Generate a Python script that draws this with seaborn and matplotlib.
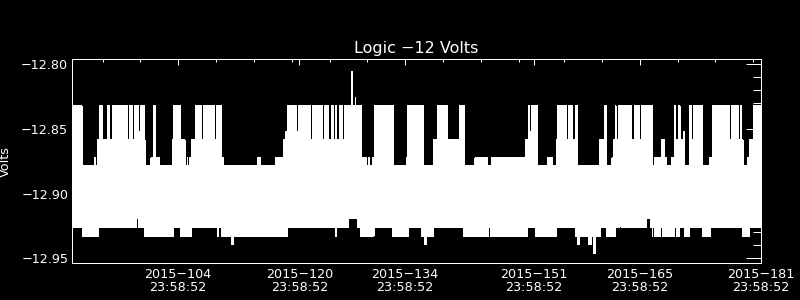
import numpy as np
import pandas as pd
import matplotlib
matplotlib.use("Agg")
import matplotlib.pyplot as plt
import seaborn as sns
from matplotlib.ticker import FixedLocator, NullFormatter

# Quantized telemetry levels (Volts) seen in the trace
level_volts = {
    "S1": -12.8052, "S2": -12.8253, "A": -12.8315, "M": -12.8516, "B": -12.8585,
    "C": -12.8717, "D": -12.8786, "L2": -12.9064, "L1": -12.9196,
    "E": -12.9265, "F": -12.9335, "G": -12.9397, "H": -12.9466,
}

# Upper envelope of the sampled -12 V logic rail (day of 2015, level reached)
upper_day = [
    90.00, 91.28, 91.41, 92.87, 93.13, 93.27, 93.53, 93.66, 93.79, 93.93, 94.59, 94.85, 95.25,
    97.23, 97.50, 98.02, 98.16, 98.78, 98.95, 99.48, 99.61, 100.40, 100.67, 101.06, 101.46,
    103.18, 103.44, 104.24, 104.90, 105.16, 105.29, 105.43, 105.56, 105.78, 106.22, 106.42,
    106.55, 106.75, 106.88, 107.08, 107.28, 107.74, 107.87, 108.40, 108.53, 108.86, 109.00,
    109.30, 109.43, 109.75, 109.92, 114.51, 114.94, 116.80, 117.89, 118.12, 118.47, 119.70,
    119.88, 120.80, 120.99, 121.16, 121.33, 121.51, 121.78, 121.95, 122.18, 123.10, 123.40,
    123.84, 124.29, 124.50, 124.82, 124.95, 125.30, 125.39, 125.61, 125.74, 125.92, 126.14,
    126.27, 126.84, 127.04, 127.37, 127.50, 128.26, 128.43, 128.65, 128.92, 129.13, 129.29,
    129.62, 129.88, 130.68, 130.85, 131.11, 131.30, 132.43, 134.15, 134.28, 135.30, 135.53,
    135.74, 135.87, 136.36, 137.68, 138.25, 138.61, 138.74, 139.23, 139.36, 139.66, 141.12,
    141.78, 143.23, 143.50, 143.63, 143.96, 144.09, 144.49, 144.62, 144.89, 145.41, 145.75,
    145.88, 146.41, 146.60, 147.73, 147.93, 148.39, 148.52, 148.82, 148.96, 149.27, 149.41,
    149.62, 149.75, 149.84, 150.28, 150.50, 150.64, 150.81, 150.94, 151.52, 152.75, 152.92,
    153.06, 153.19, 153.37, 153.50, 153.94, 154.07, 155.04, 155.17, 155.39, 155.57, 155.83,
    156.02, 156.15, 156.45, 156.72, 159.66, 160.33, 160.55, 161.34, 161.52, 161.74, 161.87,
    162.14, 162.76, 162.89, 163.86, 164.29, 164.52, 164.65, 164.95, 165.18, 166.72, 166.94,
    167.07, 167.20, 167.82, 168.31, 168.61, 169.27, 169.41, 169.63, 169.80, 170.16, 170.33,
    170.73, 170.99, 171.52, 171.83, 172.05, 172.28, 172.41, 173.37, 174.26, 174.60, 176.28,
    176.45, 176.90, 177.11, 177.34, 177.56, 178.00, 178.30, 178.44, 178.66, 179.23, 179.36,
    179.55, 179.98, 180.21, 180.34, 180.51, 180.64, 180.78, 180.91,
]
upper_code = [
    "A", "B", "D", "C", "D", "B", "A", "B", "A", "B", "A", "B", "A",
    "B", "A", "B", "A", "M", "A", "B", "D", "C", "A", "C", "D",
    "B", "A", "B", "D", "C", "D", "C", "D", "B", "A", "B",
    "A", "B", "A", "B", "A", "B", "A", "B", "A", "B", "A",
    "B", "A", "C", "D", "C", "D", "C", "B", "M", "A", "M",
    "A", "B", "A", "B", "A", "B", "A", "B", "A", "B", "A",
    "B", "A", "B", "A", "B", "A", "B", "A", "B", "A", "B",
    "A", "S1", "A", "S2", "A", "C", "D", "C", "D", "C", "D",
    "C", "A", "B", "A", "B", "A", "D", "C", "A", "B", "A",
    "B", "A", "D", "B", "A", "B", "A", "B", "A", "B", "A",
    "D", "C", "D", "C", "D", "C", "D", "C", "D", "C", "D",
    "C", "D", "C", "D", "C", "D", "C", "D", "C", "D", "C",
    "D", "C", "B", "A", "M", "A", "B", "A", "D", "C", "D",
    "C", "D", "C", "D", "B", "A", "B", "A", "B", "A", "B",
    "A", "B", "A", "D", "B", "A", "D", "C", "B", "A", "B",
    "A", "B", "A", "B", "A", "B", "A", "B", "A", "D", "C",
    "D", "C", "B", "C", "D", "C", "D", "A", "B", "A", "B",
    "M", "D", "A", "B", "A", "B", "A", "D", "C", "A", "B",
    "A", "B", "A", "B", "A", "B", "A", "B", "D", "C", "D",
    "B", "A", "B", "A", "B", "A", "B", "A",
]

# Lower envelope (day of 2015, level reached)
lower_day = [
    90.00, 91.28, 93.40, 98.55, 98.69, 99.48, 100.80, 101.02, 103.44, 104.24, 105.78,
    109.13, 109.26, 109.75, 110.98, 111.34, 118.47, 120.63, 120.76, 124.77, 124.90,
    126.45, 127.24, 127.37, 127.64, 127.90, 128.03, 128.16, 129.88, 130.28, 130.41,
    132.26, 134.38, 135.04, 135.17, 136.19, 136.62, 136.76, 137.81, 140.46, 140.59,
    141.65, 145.08, 145.22, 150.15, 150.64, 150.77, 151.26, 154.07, 156.58, 156.72,
    157.11, 158.17, 158.57, 158.96, 159.10, 159.76, 160.55, 161.74, 162.27, 162.53,
    165.84, 166.37, 166.63, 166.76, 166.99, 167.73, 167.95, 169.54, 169.84, 170.29,
    170.86, 171.61, 173.24, 174.39, 178.53, 179.55,
]
lower_code = [
    "E", "F", "E", "L1", "E", "F", "E", "F", "E", "F", "E",
    "F", "E", "F", "G", "F", "E", "L2", "E", "F", "E",
    "L1", "L2", "L1", "E", "L1", "E", "F", "E", "L1", "E",
    "F", "E", "L1", "E", "F", "G", "F", "E", "L1", "E",
    "F", "E", "F", "E", "L1", "E", "F", "E", "F", "G",
    "F", "G", "F", "H", "F", "E", "F", "E", "L1", "E",
    "L1", "E", "F", "E", "F", "E", "F", "E", "F", "E",
    "F", "E", "F", "E", "F", "E",
]
end_day = 181.0

title = "Logic \u221212 Volts"
y_label = "Volts"
major_days = [104, 120, 134, 151, 165, 181]
major_labels = ["2015\u2212104\n23:58:52", "2015\u2212120\n23:58:52", "2015\u2212134\n23:58:52",
                "2015\u2212151\n23:58:52", "2015\u2212165\n23:58:52", "2015\u2212181\n23:58:52"]
minor_days = [94, 99, 104, 109, 114, 119, 124, 129, 134, 139, 144, 149,
              155, 160, 165, 170, 175, 180]
y_major = [-12.95, -12.90, -12.85, -12.80]
y_major_labels = ["\u221212.95", "\u221212.90", "\u221212.85", "\u221212.80"]
y_minor = [-12.95, -12.94, -12.93, -12.92, -12.91, -12.90, -12.89, -12.88, -12.87,
           -12.86, -12.85, -12.84, -12.83, -12.82, -12.81, -12.80]

# ---- build long table: at every breakpoint, the range max/min reached ----
u_day = np.asarray(upper_day)
l_day = np.asarray(lower_day)
u_val = np.array([level_volts[c] for c in upper_code])
l_val = np.array([level_volts[c] for c in lower_code])
t = np.union1d(u_day, l_day)
hi = u_val[np.searchsorted(u_day, t, side="right") - 1]
lo = l_val[np.searchsorted(l_day, t, side="right") - 1]
t = np.append(t, end_day)
hi = np.append(hi, hi[-1])
lo = np.append(lo, lo[-1])
df = pd.DataFrame({"day": np.concatenate([t, t]), "volts": np.concatenate([hi, lo])})

sns.set_style("dark")
plt.rcParams["font.family"] = ["DejaVu Sans"]
plt.rcParams["axes.unicode_minus"] = True
plt.rcParams["patch.antialiased"] = False

fig = plt.figure(figsize=(8, 3), dpi=100, facecolor="black")
ax = fig.add_axes([0.0904, 0.1223, 0.8605, 0.6800])
ax.set_facecolor("black")

sns.lineplot(data=df, x="day", y="volts", estimator="mean", errorbar=("pi", 100),
             err_style="band", drawstyle="steps-post", color="white", linewidth=0,
             err_kws={"step": "post", "alpha": 1, "linewidth": 0, "antialiased": False,
                      "edgecolor": "none"},
             ax=ax)

ax.set_xlim(90, 181)
ax.set_ylim(-12.9539, -12.7961)
ax.grid(False)

for s in ax.spines.values():
    s.set_color("white")
    s.set_linewidth(0.72)
    s.set_antialiased(True)
    s.set_visible(True)

ax.xaxis.set_major_locator(FixedLocator(major_days))
ax.set_xticklabels(major_labels)
ax.xaxis.set_minor_locator(FixedLocator(minor_days))
ax.xaxis.set_minor_formatter(NullFormatter())
ax.yaxis.set_major_locator(FixedLocator(y_major))
ax.set_yticklabels(y_major_labels)
ax.yaxis.set_minor_locator(FixedLocator(y_minor))
ax.yaxis.set_minor_formatter(NullFormatter())

ax.tick_params(axis="both", which="both", direction="in", colors="white",
               top=True, right=True, width=0.72, labelsize=9.2)
ax.tick_params(axis="x", which="major", length=4.4, pad=3.5)
ax.tick_params(axis="x", which="minor", length=2.3)
ax.tick_params(axis="y", which="major", length=10.6, pad=3.0)
ax.tick_params(axis="y", which="minor", length=5.5)
for lab in ax.get_xticklabels():
    lab.set_linespacing(1.0)
    lab.set_color("white")

ax.set_xlabel("")
ax.set_ylabel(y_label, color="white", fontsize=9.2)
ax.yaxis.set_label_coords(-0.088, 0.5)
ax.set_title(title, color="white", fontsize=11.5, pad=4.8)

fig.savefig("out.png", dpi=100, facecolor="black")
